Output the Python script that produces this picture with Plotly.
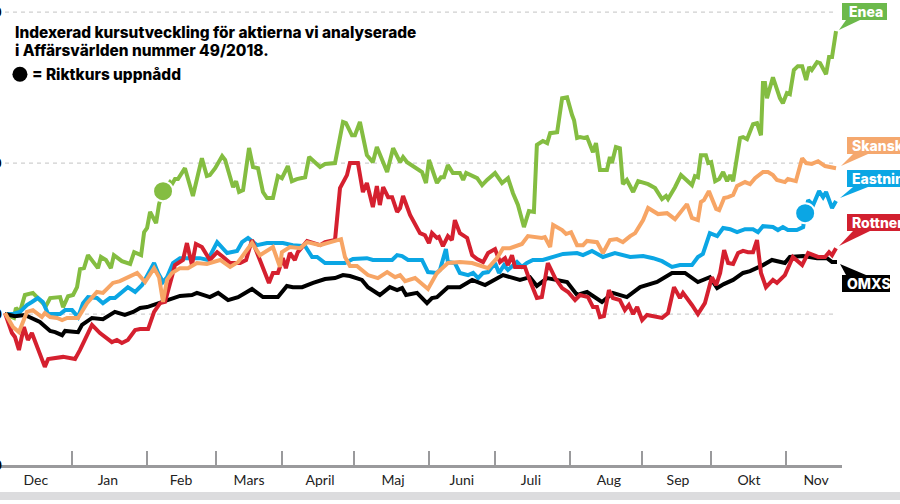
import plotly.graph_objects as go

months = ["Dec", "Jan", "Feb", "Mars", "April", "Maj", "Juni", "Juli", "Aug", "Sep", "Okt", "Nov"]
month_mid_days = [9.3, 31, 53, 73.5, 94.9, 116.9, 137.6, 158.4, 181.9, 202.7, 224.1, 244.3]
month_end_days = [20.2, 42.8, 63.5, 83.4, 105.1, 127.7, 147.5, 170.2, 191.9, 212.7, 235.3]

enea_days = [0,2.7,3.3,4.5,6,8.4,9.9,12.3,13.6,16.6,17.5,19,20.5,21.7,22.6,23.8,25,26.8,28,28.9,30.4,31.9,32.8,35.2,37.7,38.9,41,41.9,42.8,43.7,45.5,46.4,47.6,49.7,50.3,51.2,52.1,54.2,56.6,59.3,60.8,61.7,63.3,65.4,66.3,68.7,69.6,70.5,71.7,73.5,74.7,76.2,77.7,78.9,80.7,82.2,83.4,85.2,86.4,87.9,90.4,91.6,93.1,94.9,96.4,99.4,101.8,102.7,104.5,105.4,106.9,109,110.8,112,115.1,116.9,119,119.9,121.1,125.6,126.8,127.7,130.1,131.3,132.2,133.4,134.9,137,138,138.9,142.2,143.7,145.2,147.6,149.7,151.5,153,154.5,156.3,157.8,159.3,160.2,162,163.3,164.2,166.3,167.8,169.3,170.8,171.4,172.3,173.2,174.4,175.3,177.1,178,179.2,181.3,182.2,182.8,184,185.2,186.1,187.3,189.2,190.7,193.7,195.8,197.9,199.1,199.7,201.8,203.6,206.9,207.8,208.7,209.6,211.1,211.8,212.7,213.9,215.1,216.3,217.5,218.4,219.3,221.4,222.3,223.5,225.3,226.5,227.7,228.3,228.9,229.5,231.3,233.4,234.3,235.5,236.4,237.6,238.8,240.1,241.3,242.2,243,244.6,245.5,247.3,248.2,249.1,250.3]
enea_values = [100,98.7,102,100.7,106.3,107,105.3,102.6,105.3,105.6,102.3,105.9,106.3,108.9,114.9,115.2,119.5,117.2,115.2,118.9,117.9,115.2,119.5,117.5,116.6,120.5,119.5,127.1,128.5,133.8,130.1,136.4,140.7,143.7,143,144.7,144.7,148.3,139.1,151.6,145.7,146,148.3,152.3,151,142,144,140.4,141,155,148.7,148.3,140.4,138.4,138.4,145.7,145,149,144,144.7,145.3,152,150.3,148.7,149.7,150,163.6,163.2,159.2,159.2,163.6,152.6,150.3,155.3,147,154.9,150.3,152,150.3,147,143.4,151,143.4,145.3,145.3,149.3,146.7,146.7,144.4,146.7,145,142.7,144.4,146.7,143.4,145,140,136.1,128.8,134.1,133.8,156,157.3,156.6,159.9,160.2,171.5,171.8,165.9,164.2,158.3,158.6,158.3,158.6,153.6,156.6,147.7,147.7,152,150,155.3,154.9,143,144.4,140.4,144,143,141.7,138.1,139.1,138.1,142,146,142.7,145.7,145.3,152.6,152.6,150,150.3,144,144.7,147,144,146,144,158.3,158.6,157.9,162.9,163.2,159.2,176.5,176.5,171.5,178.4,171.5,169.8,173.2,172.8,180.8,182.1,182.1,177.5,181.8,180.8,183.4,183.1,179.4,185.1,185.1,193.7]

skanska_days = [0,2.4,4.2,5.4,6.6,8.4,11.1,12,13.6,15.7,17.2,18.7,22,24.7,27.7,29.5,32.5,34.6,37,39.8,42.2,44.9,46.4,47.6,48.8,50.3,52.7,55.1,57.8,60.8,64.8,67.8,70.2,74.4,76.8,80.7,82.8,83.4,85.8,88.9,91,94.9,97,101.2,102.4,103.9,106,109.3,112.3,115.1,117.5,119,120.5,123.5,127.4,130.1,133.4,137,140.7,144,145.5,148.2,150,152.1,155.7,157.5,159.6,161.7,162.6,164.2,165.1,167.8,169,170.5,172.3,174.1,175.3,178.3,180.1,182.2,184.3,186.1,188.3,189.8,192.2,193.7,196.7,199.4,201.8,205.4,206.9,208.7,209.6,210.5,212,214.2,215.1,216.6,217.8,219.3,220.5,222.9,224.4,225.9,228.3,229.8,231.3,232.5,234.9,235.8,238.2,240.1,241.3,243,244.9,247,250.3]
skanska_values = [100.3,95.7,94,97,100.7,101.3,99,100.3,99,98.7,98,98.7,98.7,103.6,107.3,107,110.3,110.9,112.2,113.6,110.6,115.2,112.2,104,111.3,113.6,115.2,115.2,116.9,116.6,117.9,115.6,117.2,123.5,119.5,122.2,115.6,120.5,122.2,121.8,123.8,122.8,123.5,124.8,118.9,115.9,115.9,112.9,111.9,113.9,112.2,112.9,110.9,111.9,108.3,113.6,116.9,117.2,116.9,115.6,115.2,118.5,121.8,121.8,123.2,125.8,125.5,125.2,125.5,122.2,129.5,127.8,126.5,127.1,122.8,122.8,124.2,123.8,120.2,124.5,124.8,123.8,125.8,126.8,131.1,135.1,133.1,133.4,131.4,136.4,131.8,131.1,137.1,137.7,140.7,134.8,134.4,138.4,138.7,139.4,142.4,143.7,143,145,147,147,146,144.4,143.7,144.7,144,151.6,150,149.7,150.6,149,148.3]

eastnine_days = [0,2.4,4.5,6.6,8.1,9.9,11.4,13,16.6,18.1,20.2,22,23.5,25,27.7,29.5,31.6,33.1,37,39.2,41.3,44.9,46.1,47.6,48.8,50.6,52.7,55.7,58.7,61.1,63.9,66.9,69.9,71.4,73.2,75.9,78.9,83.7,86.7,90.4,92.5,94,96.4,98.8,102.4,104.8,109,110.8,116.6,118.1,119.6,121.4,125.6,127.4,130.1,131,132.8,133.4,135.5,137,139.5,141,142.5,144,145.5,147.6,148.8,150.3,151.5,154.2,155.7,157.2,159,162,164.8,168.1,172.3,174.1,176.8,180.1,183.7,188.3,192.2,195.2,197.9,200.9,203.3,206.9,208.7,210.2,212.3,214.5,216.3,218.4,220.5,222.9,225.3,226.8,228.3,231.3,232.8,234.3,235.8,238.5,240.4,241,241.9,243.4,245.2,246.4,247.3,249.1,250.3]
eastnine_values = [100,100,100.7,103,104,105.3,104,100,100,101.3,101.3,99,103.6,105.6,105.3,103.6,105.3,105.3,108.9,107.3,109.6,116.9,113.6,110.6,112.2,116.9,118.5,118.5,118.5,117.9,123.8,120.2,120.9,123.8,125.2,122.8,123.5,123.5,122.8,122.5,118.9,118.9,116.9,116.9,116.9,118.2,118.5,117.9,117.9,119.5,119.2,117.9,117.9,113.9,113.6,114.6,121.5,117.2,116.9,113.6,112.9,113.6,111.9,113.6,113.9,116.9,113.6,116.2,114.6,117.2,115.6,116.9,117.9,117.9,118.9,119.9,120.2,119.5,120.9,118.9,120.2,118.9,119.2,118.5,117.5,115.6,116.2,116.2,118.9,119.9,126.8,125.8,128.5,128.1,127.1,128.1,128.1,127.1,129.1,128.8,127.8,128.8,127.8,127.8,128.8,133.4,137.7,136.1,140.7,138.7,140.4,135.1,137.4]

rottneros_days = [0,2.1,3,4.2,5.7,6.9,8.1,12,13,16.6,17.5,21.1,22.6,26.2,28.6,32.2,33.7,35.2,37,39.2,40.7,43.1,44.9,46.7,48.2,51.2,53.6,54.8,56.3,57.5,59.3,61.7,63.9,65.7,67.8,70.8,72.6,74.4,76.8,79.5,80.7,82.2,83.7,84.6,85.8,87.3,88.2,91,94.9,96.4,99.4,100.9,103,103.9,106.3,107.8,109,110.8,112,112.9,113.9,115.4,116.6,118.1,119,119.9,122,123.5,125,126.5,127.7,128.6,130.1,130.7,131.9,133.4,134.6,135.5,137,139.2,140.7,142.2,144,145.5,147.6,149.1,150.6,151.5,152.7,153.6,156.6,157.8,160.2,161.7,163.5,165.7,167.8,169.6,171.7,173.2,175.6,177.1,178.3,179.2,180.4,181.9,183.1,185.2,186.7,187.9,189.2,190.4,191.9,193.4,195.8,197.9,199.7,201.5,203.3,204.2,206.9,208.7,210.8,212.9,214.2,215.4,216.6,217.8,219.3,220.8,222.3,223.8,225.3,226.5,227.7,229.2,231.3,232.5,234.9,236.4,237.3,240.1,241.9,244.9,247,248.2,249.1,250.3]
rottneros_values = [100.3,93.7,92.4,88.1,95.7,91.4,93.7,82.5,85.1,85.4,85.8,85.1,88.1,96.4,93.7,90.7,91.4,90.4,91.4,94.7,95,95,100.7,103.6,104,116.2,117.9,123.5,116.2,123.2,122.2,117.9,120.5,118.9,116.9,116.9,117.9,124.5,117.9,110.3,113.6,113.6,118.5,115.2,120.2,117.9,120.5,124.2,122.8,123.8,124.5,141.7,146,150,150,140.4,143.4,135.4,142.4,136.1,142,138.7,138.7,133.8,135.1,139.1,132.8,130.1,126.8,126.1,123.5,126.8,125.2,125.5,122.5,125.8,124.5,131.1,126.8,125.2,119.5,118.2,117.2,120.2,121.5,117.2,118.5,116.2,119.5,115.6,115.6,111.9,105.3,105.6,116.9,111.9,108.6,107.3,104.6,106.3,105.6,102.3,102.3,99,99.3,107.9,105.3,104.6,101.3,103,100,102.3,98,99.7,99,98.7,100.3,108.9,105.3,107,103,100,103.6,112.2,109.6,113.6,121.2,116.9,116.6,120.2,120.9,120.5,120.5,124.5,113.6,108.9,111.3,110.3,112.9,116.9,118.9,116.2,120.2,118.9,118.9,120.5,119.5,121.8]

omxs_days = [0,3,6,7.5,10.5,13.6,15.1,17.2,18.1,22,23.2,26.2,29.5,33.1,36.1,38.6,40.7,42.8,47.6,52.7,56.3,57.8,61.7,64.2,67.2,70.2,74.4,77.7,82.2,84.9,86.7,89.5,92.8,96.4,99.4,101.8,103.9,107.5,109.3,111.4,112.9,115.9,118.1,119.6,120.8,124.1,127.1,128.6,130.1,133.4,137,140.7,144.6,150,155.1,158.1,160.2,163.3,169.3,172.3,175.3,179.8,183.1,187.3,191.3,196.4,200.9,204.8,208.7,212.3,214.5,216.5,219.3,222.3,224.4,228.3,231,234.9,236.4,240.4,244.6,247.6,249.1,250.6]
omxs_values = [100,99.3,99.7,99,97.4,94.4,94,93,94.4,94,96.4,98.7,98.3,100.7,99.7,100.7,102,102.3,104,106,106.3,107,105.6,107,104.6,105.6,108.3,105.6,105.6,109.3,108.9,108.9,110.3,111.6,111.9,112.9,112.6,111.3,108.9,107.6,106.3,108.9,107.9,108.6,106.3,107,103.6,105.3,105.6,108.9,108.9,111.3,109.6,112.9,111.3,112.2,109.3,111.9,110.6,106.3,107.3,104,107,105.6,108.9,110.6,113.6,113.6,110.6,112.2,108.6,109.9,111.3,113.6,114.2,116.2,117.9,116.9,118.9,119.2,118.5,118.5,117.2,117.2]

target_days = [47.6, 241.0]
target_values = [140.7, 133.4]
target_colors = ["#84bd41", "#0ba6e4"]
key_day = [4.5]
key_value = [179.4]
grid_values = [100, 150, 200]
tick_values = [50, 100, 150, 200]
title_lines = ["Indexerad kursutveckling för aktierna vi analyserade", "i Affärsvärlden nummer 49/2018."]
key_text = "= Riktkurs uppnådd"

W, H, BOTTOM = 900, 504, 39
PLOT_H = H - BOTTOM
FONT = "Inter"
def fx(p): return p / W
def fy(p): return 1 - p / PLOT_H

series = [
    ("Enea", enea_days, enea_values, "#84bd41"),
    ("Eastnine", eastnine_days, eastnine_values, "#0ba6e4"),
    ("OMXS", omxs_days, omxs_values, "#000000"),
    ("Rottneros", rottneros_days, rottneros_values, "#d5202f"),
    ("Skanska", skanska_days, skanska_values, "#f7a565"),
]

fig = go.Figure()
for name, d, v, c in series:
    fig.add_trace(go.Scatter(x=d, y=v, mode="lines", name=name, line=dict(color=c, width=4), cliponaxis=False))
fig.add_trace(go.Scatter(x=target_days, y=target_values, mode="markers", name="Riktkurs uppnådd",
                         marker=dict(size=20, color=target_colors, line=dict(color="white", width=2))))
fig.add_trace(go.Scatter(x=key_day, y=key_value, mode="markers", name="Teckenförklaring",
                         marker=dict(size=15, color="black")))

shapes = []
for g in grid_values:
    shapes.append(dict(type="line", xref="x", yref="y", x0=0, x1=250.3, y0=g, y1=g, layer="below",
                       line=dict(color="#cfcfcf", width=1.3, dash="4px,4px")))
shapes.append(dict(type="rect", xref="paper", yref="paper", x0=0, x1=1, y0=fy(492), y1=fy(500),
                   line=dict(width=0), fillcolor="#dcdcde"))

labels = [
    ("Enea", "#6cb94b", (842, 3, 887, 20), [(846, 20), (860, 20), (839, 30)], 848),
    ("Skanska", "#f5a86e", (847, 137, 910, 154), [(853, 154), (868, 154), (841, 166)], 851),
    ("Eastnine", "#0ba6e4", (847, 170, 915, 187), [(853, 187), (868, 187), (840, 198)], 851),
    ("Rottneros", "#d2202f", (847, 214, 925, 231), [(853, 231), (870, 231), (839, 246)], 851),
    ("OMXS", "#000000", (842, 275, 890, 292), [(846, 275), (866, 275), (840, 264)], 846),
]
annotations = []
for text, color, (x0, y0, x1, y1), tail, tx in labels:
    shapes.append(dict(type="rect", xref="paper", yref="paper", x0=fx(x0), x1=fx(x1), y0=fy(y1), y1=fy(y0),
                       fillcolor=color, line=dict(width=0)))
    path = "M " + " L ".join(f"{fx(a):.5f} {fy(b):.5f}" for a, b in tail) + " Z"
    shapes.append(dict(type="path", xref="paper", yref="paper", path=path, fillcolor=color, line=dict(width=0)))
    annotations.append(dict(xref="paper", yref="paper", x=fx(tx), y=fy((y0 + y1) / 2), text=text,
                            showarrow=False, xanchor="left", yanchor="middle", borderpad=0,
                            font=dict(family=FONT, size=14, weight=800, color="white")))
for line, py in zip(title_lines, (32, 51)):
    annotations.append(dict(xref="paper", yref="paper", x=fx(14), y=fy(py), text=line, showarrow=False,
                            xanchor="left", yanchor="middle", borderpad=0,
                            font=dict(family=FONT, size=15.4, weight=800, color="black")))
annotations.append(dict(xref="paper", yref="paper", x=fx(31), y=fy(74), text=key_text, showarrow=False,
                        xanchor="left", yanchor="middle", borderpad=0,
                        font=dict(family=FONT, size=15.4, weight=800, color="black")))
for t in tick_values:
    annotations.append(dict(xref="paper", yref="y", x=fx(2), y=t, text=f"<b>{t}</b>", showarrow=False,
                            xanchor="right", yanchor="middle", borderpad=0, borderwidth=0,
                            font=dict(family=FONT, size=13, color="black")))

fig.update_layout(
    width=W, height=H, margin=dict(l=0, r=0, t=0, b=BOTTOM, autoexpand=False),
    paper_bgcolor="white", plot_bgcolor="white", showlegend=False,
    shapes=shapes, annotations=annotations, hovermode=False,
    xaxis=dict(domain=[0, 842 / W], range=[-1.506, 252.1], showgrid=False, zeroline=False,
               showline=True, linecolor="#9a9a9c", linewidth=2.5,
               tickmode="array", tickvals=month_mid_days, ticktext=months, ticks="", ticklen=0,
               tickfont=dict(family="Lato", size=14, color="#222222"),
               minor=dict(tickmode="array", tickvals=month_end_days, ticks="inside", ticklen=14,
                          tickwidth=1.8, tickcolor="#9a9a9c", showgrid=False)),
    yaxis=dict(range=[50, 204], showgrid=False, zeroline=False, showline=False, showticklabels=False, ticks=""),
)
fig.write_html("out.html", post_script="document.body.style.margin='0';document.body.style.overflow='hidden';",
               config=dict(displayModeBar=False))
